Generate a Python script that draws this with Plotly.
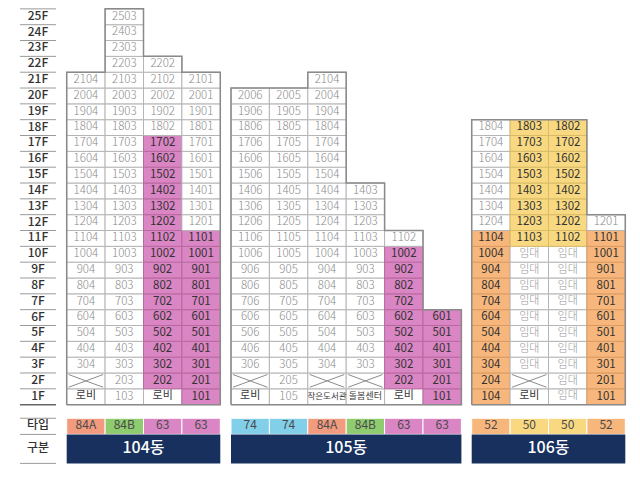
import plotly.graph_objects as go

# ---------------- data ----------------
floor_labels = ["1F", "2F", "3F", "4F", "5F", "6F", "7F", "8F", "9F", "10F", "11F", "12F", "13F",
                "14F", "15F", "16F", "17F", "18F", "19F", "20F", "21F", "22F", "23F", "24F", "25F"]
floor_numbers = list(range(1, 26))

row_labels = ["타입", "구분"]

b104_name = "104동"
b104_units = ["04", "03", "02", "01"]
b104_tops = [21, 25, 22, 21]
b104_types = ["84A", "84B", "63", "63"]
b104_color_from = [0, 0, 2, 1]
b104_color_to = [0, 0, 17, 11]
b104_f1 = ["로비", "", "로비", ""]
b104_f2 = ["X", "", "", ""]
b104_rent_from = [0, 0, 0, 0]
b104_rent_to = [0, 0, 0, 0]

b105_name = "105동"
b105_units = ["06", "05", "04", "03", "02", "01"]
b105_tops = [20, 20, 21, 14, 11, 6]
b105_types = ["74", "74", "84A", "84B", "63", "63"]
b105_color_from = [0, 0, 0, 0, 2, 1]
b105_color_to = [0, 0, 0, 0, 10, 6]
b105_f1 = ["로비", "", "작은도서관", "돌봄센터", "로비", ""]
b105_f2 = ["X", "", "X", "X", "", ""]
b105_rent_from = [0, 0, 0, 0, 0, 0]
b105_rent_to = [0, 0, 0, 0, 0, 0]

b106_name = "106동"
b106_units = ["04", "03", "02", "01"]
b106_tops = [18, 18, 18, 12]
b106_types = ["52", "50", "50", "52"]
b106_color_from = [1, 11, 11, 1]
b106_color_to = [11, 18, 18, 11]
b106_f1 = ["", "로비", "", ""]
b106_f2 = ["", "X", "", ""]
b106_rent_from = [0, 3, 1, 0]
b106_rent_to = [0, 10, 10, 0]

# ---------------- styles / layout ----------------
type_fill = {"84A": "#F29B7F", "84B": "#8FCB6F", "63": "#DA85C4", "74": "#82CFEA",
             "52": "#F7B77C", "50": "#F8D981"}
type_line = {"84A": "#D9826A", "84B": "#78B25C", "63": "#B8699F", "74": "#6DB5CF",
             "52": "#D99B63", "50": "#D9BB66"}
NAVY = "#17305E"
FONT = "Noto Sans CJK KR"

COLW = 38.4
building_x0 = [66.7, 231.0, 471.7]
LABEL_X0, LABEL_X1 = 20, 56
TYPE_TOP, TYPE_BOT, GUBUN_BOT = -0.36, -1.38, -3.21

buildings = [
    (b104_name, b104_units, b104_tops, b104_types, b104_color_from, b104_color_to, b104_f1, b104_f2, b104_rent_from, b104_rent_to),
    (b105_name, b105_units, b105_tops, b105_types, b105_color_from, b105_color_to, b105_f1, b105_f2, b105_rent_from, b105_rent_to),
    (b106_name, b106_units, b106_tops, b106_types, b106_color_from, b106_color_to, b106_f1, b106_f2, b106_rent_from, b106_rent_to),
]

shapes = []
tx, ty, tt, tc, ts, tw = [], [], [], [], [], []

def add_text(x, y, t, c, s, w=400):
    tx.append(x); ty.append(y); tt.append(t); tc.append(c); ts.append(s); tw.append(w)

fig = go.Figure()

for bi, (name, units, tops, types, cfrom, cto, f1, f2, rfrom, rto) in enumerate(buildings):
    x0 = building_x0[bi]
    n = len(units)
    for i in range(n):
        xa, xb = x0 + i * COLW, x0 + (i + 1) * COLW
        xc = (xa + xb) / 2
        for f in range(1, tops[i] + 1):
            label = None
            if f == 1 and f1[i]:
                label = f1[i]
            elif f == 2 and f2[i]:
                label = f2[i]
            elif rfrom[i] and rfrom[i] <= f <= rto[i]:
                label = "임대"
            colored = label is None and cfrom[i] and cfrom[i] <= f <= cto[i]
            fill = type_fill[types[i]] if colored else "white"
            lc = type_line[types[i]] if colored else "#B5B5B5"
            shapes.append(dict(type="rect", xref="x", yref="y", x0=xa, x1=xb, y0=f - 0.5, y1=f + 0.5,
                               fillcolor=fill, line=dict(color=lc, width=1), layer="below"))
            if label == "X":
                shapes.append(dict(type="line", xref="x", yref="y", x0=xa + 2, x1=xb - 2, y0=f + 0.4, y1=f - 0.4,
                                   line=dict(color="#8C8C8C", width=1)))
                shapes.append(dict(type="line", xref="x", yref="y", x0=xa + 2, x1=xb - 2, y0=f - 0.4, y1=f + 0.4,
                                   line=dict(color="#8C8C8C", width=1)))
            elif label == "임대":
                add_text(xc, f, label, "#999999", 11, 300)
            elif label is not None:
                size = 8.5 if len(label) >= 5 else (9 if len(label) == 4 else 11)
                add_text(xc, f, label, "#3A3A3A", size, 400)
            else:
                num = str(f * 100 + int(units[i]))
                if colored:
                    add_text(xc, f, num, "#333333", 11.5, 400)
                else:
                    add_text(xc, f, num, "#8A8A8A", 11.5, 300)
        # type row
        shapes.append(dict(type="rect", xref="x", yref="y", x0=xa, x1=xb, y0=TYPE_BOT, y1=TYPE_TOP,
                           fillcolor=type_fill[types[i]], line=dict(color="white", width=1), layer="below"))
        add_text(xc, (TYPE_TOP + TYPE_BOT) / 2, types[i], "#4A4A4A", 12, 400)
    # outline
    ox, oy = [x0, x0], [0.5, tops[0] + 0.5]
    for i in range(n):
        ox.append(x0 + (i + 1) * COLW); oy.append(tops[i] + 0.5)
        if i < n - 1:
            ox.append(x0 + (i + 1) * COLW); oy.append(tops[i + 1] + 0.5)
    ox += [x0 + n * COLW, x0]; oy += [0.5, 0.5]
    fig.add_trace(go.Scatter(x=ox, y=oy, mode="lines", line=dict(color="#8A8A8A", width=1.5),
                             hoverinfo="skip", showlegend=False))
    # gubun row
    shapes.append(dict(type="rect", xref="x", yref="y", x0=x0, x1=x0 + n * COLW, y0=GUBUN_BOT, y1=TYPE_BOT,
                       fillcolor=NAVY, line=dict(color=NAVY, width=0), layer="below"))
    add_text(x0 + n * COLW / 2, (TYPE_BOT + GUBUN_BOT) / 2, name, "white", 16, 500)

# floor labels column
for f, lab in zip(floor_numbers, floor_labels):
    add_text((LABEL_X0 + LABEL_X1) / 2, f, lab, "#333333", 12, 500)
    shapes.append(dict(type="line", xref="x", yref="y", x0=LABEL_X0, x1=LABEL_X1, y0=f + 0.5, y1=f + 0.5,
                       line=dict(color="#9A9A9A", width=1)))
shapes.append(dict(type="line", xref="x", yref="y", x0=LABEL_X0, x1=LABEL_X1, y0=0.5, y1=0.5,
                   line=dict(color="#666666", width=1.5)))
for yl in (TYPE_TOP, TYPE_BOT, GUBUN_BOT):
    shapes.append(dict(type="line", xref="x", yref="y", x0=LABEL_X0, x1=LABEL_X1, y0=yl, y1=yl,
                       line=dict(color="#9A9A9A", width=1)))
add_text((LABEL_X0 + LABEL_X1) / 2, (TYPE_TOP + TYPE_BOT) / 2, row_labels[0], "#333333", 12, 500)
add_text((LABEL_X0 + LABEL_X1) / 2, (TYPE_BOT + GUBUN_BOT) / 2, row_labels[1], "#333333", 12, 500)

# split text into weight groups
for w in sorted(set(tw)):
    idx = [k for k in range(len(tw)) if tw[k] == w]
    fig.add_trace(go.Scatter(
        x=[tx[k] for k in idx], y=[ty[k] for k in idx], text=[tt[k] for k in idx],
        mode="text", textposition="middle center",
        textfont=dict(family=FONT, color=[tc[k] for k in idx], size=[ts[k] for k in idx], weight=w),
        hoverinfo="skip", showlegend=False))

fig.update_layout(
    width=640, height=480, margin=dict(l=0, r=0, t=0, b=0),
    paper_bgcolor="white", plot_bgcolor="white", shapes=shapes, showlegend=False,
    xaxis=dict(range=[0, 640], visible=False, fixedrange=True),
    yaxis=dict(range=[-4.26, 26.06], visible=False, fixedrange=True),
)
fig.write_html("out.html", config={"displayModeBar": False},
               post_script="document.body.style.margin='0px';document.body.style.overflow='hidden';")
